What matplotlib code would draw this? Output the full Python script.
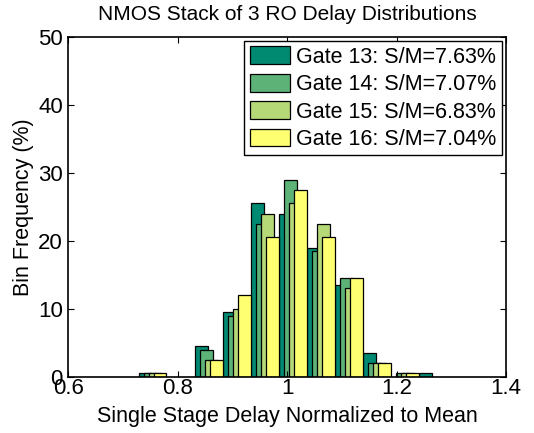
import numpy as np
import matplotlib.pyplot as plt

plt.rcParams['font.family'] = ['Liberation Sans', 'DejaVu Sans']

# bin centres (normalized delay) and bin frequencies (%) per gate
bin_centers = 0.754 + 0.0513 * np.arange(11)
gate13 = [0.5, 0, 4.5, 9.5, 25.5, 24.0, 19.0, 13.5, 3.5, 0, 0.5]
gate14 = [0.5, 0, 4.0, 9.0, 22.5, 29.0, 18.5, 14.5, 2.0, 0.5, 0]
gate15 = [0.5, 0, 2.5, 10.0, 24.0, 25.5, 22.5, 13.0, 2.0, 0.5, 0]
gate16 = [0.5, 0, 2.5, 12.0, 20.5, 27.5, 20.5, 14.5, 2.0, 0.5, 0]
labels = ['Gate 13: S/M=7.63%', 'Gate 14: S/M=7.07%',
          'Gate 15: S/M=6.83%', 'Gate 16: S/M=7.04%']
colors = ['#008a72', '#5cb277', '#b6d978', '#ffff72']

fig = plt.figure(figsize=(5.34, 4.33), dpi=100)
ax = fig.add_axes([0.128, 0.130, 0.8196, 0.7852])

step = 0.00912
width = 0.0232
for i, (vals, lab, col) in enumerate(zip([gate13, gate14, gate15, gate16], labels, colors)):
    vals = np.array(vals)
    xs = bin_centers + (i - 1.5) * step
    keep = vals > 0
    ax.bar(xs[keep], vals[keep], width=width, color=col, edgecolor='black',
           linewidth=0.9, label=lab)

ax.set_xlim(0.6, 1.4)
ax.set_ylim(0, 50)
ax.set_xticks([0.6, 0.8, 1.0, 1.2, 1.4])
ax.set_xticklabels(['0.6', '0.8', '1', '1.2', '1.4'])
ax.set_yticks(np.arange(0, 51, 10))
ax.tick_params(direction='in', top=True, right=True, length=4, width=0.8,
               labelsize=16, colors='black')
ax.tick_params(axis='x', pad=1)
ax.tick_params(axis='y', pad=4)
for s in ax.spines.values():
    s.set_linewidth(1.2)

ax.set_title('NMOS Stack of 3 RO Delay Distributions', fontsize=15, pad=12)
ax.set_xlabel('Single Stage Delay Normalized to Mean', fontsize=15.5, labelpad=5)
ax.set_ylabel('Bin Frequency (%)', fontsize=15.5, labelpad=3)

leg = ax.legend(loc='upper right', fontsize=15.5, fancybox=False, edgecolor='black',
                framealpha=1, borderaxespad=0.2, handlelength=1.85, handleheight=0.9,
                handletextpad=0.3, labelspacing=0.28, borderpad=0.25)
leg.get_frame().set_linewidth(1.0)

fig.savefig('out.png', dpi=100)
